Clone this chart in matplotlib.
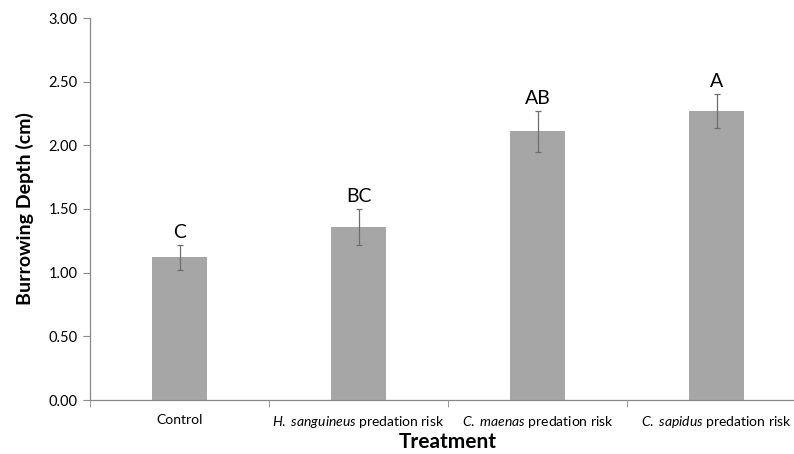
import matplotlib
matplotlib.use("Agg")
import matplotlib.pyplot as plt
import numpy as np

plt.rcParams['font.family'] = ['Lato', 'DejaVu Sans']
plt.rcParams['mathtext.fontset'] = 'custom'
plt.rcParams['mathtext.rm'] = 'Lato'
plt.rcParams['mathtext.it'] = 'Lato:italic'

categories = ["Control",
              r"$\it{H.\ sanguineus}$ predation risk",
              r"$\it{C.\ maenas}$ predation risk",
              r"$\it{C.\ sapidus}$ predation risk"]
means = [1.12, 1.36, 2.11, 2.27]
errors = [0.10, 0.14, 0.16, 0.135]
letters = ["C", "BC", "AB", "A"]
yticks = [0.0, 0.5, 1.0, 1.5, 2.0, 2.5, 3.0]

fig = plt.figure(figsize=(7.94, 4.54), dpi=100)
ax = fig.add_axes([90/794, 1-400/454, 716/794, 382/454])

x = np.arange(len(categories))
ax.bar(x, means, width=0.31, color='#A6A6A6', zorder=2)
ax.errorbar(x, means, yerr=errors, fmt='none', ecolor='#6E6E6E', elinewidth=0.9,
            capsize=2, capthick=0.9, zorder=3)
for xi, m, e, l in zip(x, means, errors, letters):
    ax.text(xi, m + e + 0.03, l, ha='center', va='bottom', fontsize=14)

ax.set_xlim(-0.5, 3.5)
ax.set_ylim(0, 3.0)
ax.set_yticks(yticks)
ax.set_yticklabels([f"{v:.2f}" for v in yticks], fontsize=10.5)
ax.set_xticks(x)
ax.set_xticklabels(categories, fontsize=10)
ax.set_xticks(np.arange(-0.5, 3.6, 1.0), minor=True)
ax.tick_params(axis='x', which='major', length=0, pad=10)
ax.tick_params(axis='x', which='minor', length=5, color='#898989', direction='out')
ax.tick_params(axis='y', length=5, color='#898989', direction='out', pad=4)

for s in ['top', 'right']:
    ax.spines[s].set_visible(False)
for s in ['left', 'bottom']:
    ax.spines[s].set_color('#898989')
    ax.spines[s].set_linewidth(0.9)

ax.set_ylabel("Burrowing Depth (cm)", fontsize=14, fontweight='bold', labelpad=10)
ax.set_xlabel("Treatment", fontsize=15, fontweight='bold')
ax.xaxis.set_label_coords(0.5, -0.085)

fig.savefig("out.png", dpi=100)
